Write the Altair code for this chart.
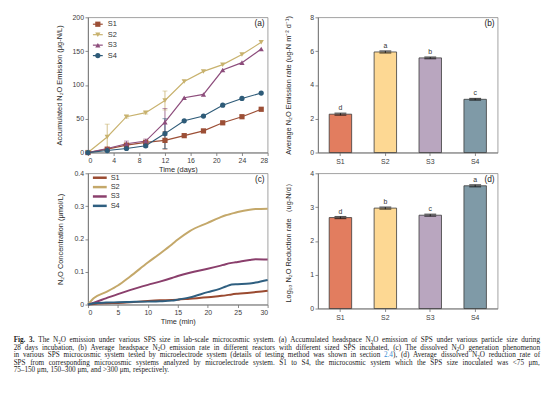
import altair as alt
import pandas as pd

FONT = "Liberation Sans"
SERIF = "Liberation Serif"
series = ["S1", "S2", "S3", "S4"]

# ---------- (a) accumulated headspace N2O emission ----------
days = [0, 3, 6, 9, 12, 15, 18, 21, 24, 27]
acc_S1 = [0, 5, 11, 15, 18, 25, 32, 44, 53, 64]
acc_S2 = [0, 23, 53, 59, 77, 105, 120, 130, 145, 163]
acc_S3 = [0, 6, 13, 17, 45, 81, 86, 122, 133, 153]
acc_S4 = [0, 3, 6, 10, 28, 47, 54, 70, 80, 88]
err_S1 = [0, 1, 2, 2, 13, 1, 1, 1, 1, 1]
err_S2 = [0, 19, 2, 2, 14, 1, 1, 1, 1, 1]
err_S3 = [0, 1, 4, 3, 20, 1, 1, 1, 1, 1]
err_S4 = [0, 1, 1, 2, 22, 1, 1, 1, 1, 1]

# ---------- (b) average headspace emission rate ----------
emis_rate = [2.27, 5.95, 5.60, 3.15]
emis_err = [0.06, 0.06, 0.05, 0.05]
emis_letters = ["d", "a", "b", "c"]

# ---------- (c) dissolved N2O concentration ----------
minutes = [0, 1, 3, 5, 7, 10, 12, 14, 15, 17, 20, 22, 23, 24, 25, 27, 28, 30]
conc_S1 = [0, 0.002, 0.004, 0.005, 0.007, 0.011, 0.013, 0.014, 0.015, 0.018, 0.022, 0.026, 0.028, 0.031, 0.033, 0.036, 0.038, 0.042]
conc_S2 = [0, 0.020, 0.038, 0.058, 0.085, 0.128, 0.155, 0.183, 0.198, 0.224, 0.249, 0.265, 0.272, 0.277, 0.282, 0.289, 0.291, 0.292]
conc_S3 = [0, 0.006, 0.019, 0.032, 0.044, 0.060, 0.070, 0.081, 0.087, 0.097, 0.109, 0.118, 0.123, 0.127, 0.130, 0.136, 0.138, 0.137]
conc_S4 = [0, 0.004, 0.006, 0.007, 0.008, 0.009, 0.010, 0.012, 0.015, 0.022, 0.038, 0.048, 0.055, 0.061, 0.062, 0.064, 0.067, 0.075]

# ---------- (d) dissolved N2O reduction rate ----------
red_rate = [2.69, 2.97, 2.76, 3.63]
red_err = [0.03, 0.03, 0.03, 0.03]
red_letters = ["d", "b", "c", "a"]

# ---------- figure caption (one string per printed line; |...| marks the blue link) ----------
caption_bold = "Fig. 3."
caption_lines = [
    "The N₂O emission under various SPS size in lab-scale microcosmic system. (a) Accumulated headspace N₂O emission of SPS under various particle size during",
    "28 days incubation, (b) Average headspace N₂O emission rate in different reactors with different sized SPS incubated, (c) The dissolved N₂O generation phenomenon",
    "in various SPS microcosmic system tested by microelectrode system (details of testing method was shown in section |2.4|), (d) Average dissolved N₂O reduction rate of",
    "SPS from corresponding microcosmic systems analyzed by microelectrode system. S1 to S4, the microcosmic system which the SPS size inoculated was <75 μm,",
    "75–150 μm, 150–300 μm, and >300 μm, respectively.",
]
caption_justified = [True, True, True, True, False]

colors_a = ["#9c4f36", "#c8b26e", "#8d4d7c", "#2e5b78"]
shapes_a = ["square", "triangle-down", "triangle-up", "circle"]
colors_c = ["#9a4a30", "#c4a86a", "#8a3f6c", "#2f5f80"]
bar_colors = ["#e27d5f", "#fdd893", "#b9a6bf", "#7f9aa7"]
TEXT_COL = "#1a1a1a"
LINK_COL = "#3b8fd4"

W, H1, H2 = 182, 137, 133
one = pd.DataFrame({"k": [0]})


def panel_label(txt, w):
    return alt.Chart(one).mark_text(text=txt, align="right", baseline="middle", font=FONT,
                                    fontSize=8.5, color="#222").encode(
        x=alt.value(w - 3), y=alt.value(6))


# ----- panel a -----
rows = []
for s, vals, errs in zip(series, [acc_S1, acc_S2, acc_S3, acc_S4], [err_S1, err_S2, err_S3, err_S4]):
    for d, v, e in zip(days, vals, errs):
        rows.append(dict(day=d, val=v, lo=v - e, hi=v + e, err=e, s=s))
dfa = pd.DataFrame(rows)

sx_a = alt.Scale(domain=[0, 28], nice=False)
sy_a = alt.Scale(domain=[0, 200], nice=False)
axx_a = alt.Axis(values=list(range(0, 29, 4)), title="Time (days)", titlePadding=2)
axy_a = alt.Axis(values=[0, 50, 100, 150, 200], title="Accumulated N₂O Emission (μg-N/L)", titlePadding=9)
col_a = alt.Color("s:N", scale=alt.Scale(domain=series, range=colors_a), legend=None)
shp_a = alt.Shape("s:N", scale=alt.Scale(domain=series, range=shapes_a), legend=None)

base_a = alt.Chart(dfa)
xa = alt.X("day:Q", scale=sx_a, axis=axx_a)
a_err = base_a.transform_filter("datum.err >= 2").mark_rule(strokeWidth=0.8).encode(
    x=xa, y=alt.Y("lo:Q", scale=sy_a, axis=axy_a), y2="hi:Q", color=col_a)
a_cap_hi = base_a.transform_filter("datum.err >= 2").mark_tick(orient="horizontal", size=5, thickness=0.8).encode(
    x=xa, y=alt.Y("hi:Q", scale=sy_a, axis=axy_a), color=col_a)
a_cap_lo = base_a.transform_filter("datum.err >= 2").mark_tick(orient="horizontal", size=5, thickness=0.8).encode(
    x=xa, y=alt.Y("lo:Q", scale=sy_a, axis=axy_a), color=col_a)
a_line = base_a.mark_line(strokeWidth=1.2).encode(
    x=xa, y=alt.Y("val:Q", scale=sy_a, axis=axy_a), color=col_a)
a_pts = base_a.mark_point(filled=True, size=28, opacity=1).encode(
    x=xa, y=alt.Y("val:Q", scale=sy_a, axis=axy_a), color=col_a, shape=shp_a)

leg_a = pd.DataFrame({"s": series, "ly": [7 + 10.6 * i for i in range(4)]})
la_rule = alt.Chart(leg_a).mark_rule(strokeWidth=1.2).encode(
    x=alt.value(5), x2=alt.value(15), y=alt.Y("ly:Q", scale=None, axis=None), color=col_a)
la_pts = alt.Chart(leg_a).mark_point(filled=True, size=28, opacity=1).encode(
    x=alt.value(10), y=alt.Y("ly:Q", scale=None, axis=None), color=col_a, shape=shp_a)
la_txt = alt.Chart(leg_a).mark_text(align="left", baseline="middle", font=FONT, fontSize=7.5, color="#333").encode(
    x=alt.value(20), y=alt.Y("ly:Q", scale=None, axis=None), text="s:N")

pa = alt.layer(a_err, a_cap_hi, a_cap_lo, a_line, a_pts, la_rule, la_pts, la_txt,
               panel_label("(a)", W)).properties(width=W, height=H1)


# ----- bar panels -----
def bar_panel(vals, errs, letters, ymax, yvals, ytitle, label, h, fieldname):
    df = pd.DataFrame({fieldname: series, "v": vals, "e": errs, "lab": letters})
    df["hi"] = df["v"] + df["e"]
    df["lo"] = df["v"] - df["e"]
    sx = alt.Scale(domain=series, paddingInner=0.5, paddingOuter=0.25)
    sy = alt.Scale(domain=[0, ymax], nice=False)
    x = alt.X(f"{fieldname}:N", scale=sx, axis=alt.Axis(title=None, labelAngle=0, labelPadding=2))
    axy = alt.Axis(values=yvals, title=ytitle, titlePadding=17, format="~g")
    base = alt.Chart(df)
    bars = base.mark_bar(stroke="#3a3a3a", strokeWidth=0.8).encode(
        x=x, y=alt.Y("v:Q", scale=sy, axis=axy),
        fill=alt.Fill(f"{fieldname}:N", scale=alt.Scale(domain=series, range=bar_colors), legend=None))
    rule = base.mark_rule(color="#111", strokeWidth=0.8).encode(
        x=x, y=alt.Y("lo:Q", scale=sy, axis=axy), y2="hi:Q")
    cap = base.mark_tick(color="#111", size=12, thickness=1.2).encode(
        x=x, y=alt.Y("hi:Q", scale=sy, axis=axy))
    cap2 = base.mark_tick(color="#111", size=12, thickness=1.2).encode(
        x=x, y=alt.Y("lo:Q", scale=sy, axis=axy))
    txt = base.mark_text(baseline="bottom", dy=-2, font=FONT, fontSize=7, color="#333").encode(
        x=x, y=alt.Y("hi:Q", scale=sy, axis=axy), text="lab:N")
    return alt.layer(bars, rule, cap, cap2, txt, panel_label(label, W)).properties(width=W, height=h)


pb = bar_panel(emis_rate, emis_err, emis_letters, 8, [0, 2, 4, 6, 8],
               "Average N₂O Emission rate (ug-N m⁻² d⁻¹)", "(b)", H1, "sb")
pdd = bar_panel(red_rate, red_err, red_letters, 4, [0, 1, 2, 3, 4],
                "Log₁₀ N₂O Reduction rate （ug-N/d）", "(d)", H1, "sd")

# ----- panel c -----
rows = []
for s, vals in zip(series, [conc_S1, conc_S2, conc_S3, conc_S4]):
    for t, v in zip(minutes, vals):
        rows.append(dict(t=t, c=v, sc=s))
dfc = pd.DataFrame(rows)
col_c = alt.Color("sc:N", scale=alt.Scale(domain=series, range=colors_c), legend=None)
c_line = alt.Chart(dfc).mark_line(strokeWidth=2, interpolate="monotone").encode(
    x=alt.X("t:Q", scale=alt.Scale(domain=[0, 30], nice=False),
            axis=alt.Axis(values=[0, 5, 10, 15, 20, 25, 30], title="Time (min)", titlePadding=2)),
    y=alt.Y("c:Q", scale=alt.Scale(domain=[0, 0.4], nice=False),
            axis=alt.Axis(values=[0, 0.1, 0.2, 0.3, 0.4], format="~g",
                          title="N₂O Concentration (μmol/L)", titlePadding=10)),
    color=col_c)
leg_c = pd.DataFrame({"sc": series, "ly": [4.5 + 9.5 * i for i in range(4)]})
lc_rule = alt.Chart(leg_c).mark_rule(strokeWidth=2.5).encode(
    x=alt.value(5), x2=alt.value(19), y=alt.Y("ly:Q", scale=None, axis=None), color=col_c)
lc_txt = alt.Chart(leg_c).mark_text(align="left", baseline="middle", font=FONT, fontSize=7.5, color="#333").encode(
    x=alt.value(23), y=alt.Y("ly:Q", scale=None, axis=None), text="sc:N")

# ----- caption layout: justified word placement using Times-compatible metrics -----
TIMES = {" ": 250, "(": 333, ")": 333, ",": 250, "-": 333, ".": 250, "<": 564, ">": 564, "–": 500,
         "μ": 576}
for ch in "0123456789":
    TIMES[ch] = 500
TIMES.update(dict(zip("ABCDEFGHIJKLMNOPQRSTUVWXYZ",
                      [722, 667, 667, 722, 611, 556, 722, 722, 333, 389, 722, 611, 889, 722, 722, 556, 722,
                       667, 556, 611, 722, 722, 944, 722, 722, 611])))
TIMES.update(dict(zip("abcdefghijklmnopqrstuvwxyz",
                      [444, 500, 444, 500, 444, 333, 500, 500, 278, 278, 500, 278, 778, 500, 500, 500, 500,
                       333, 389, 278, 500, 500, 722, 500, 500, 444])))
CFS = 7.3
SUB = 0.7
CAP_L, CAP_R = -75.3, 458.0
CAP_Y0, CAP_DY = 169.0, 7.6


def split_segments(word):
    """Split a word into (text, style) pieces: style is 'n' normal, 'l' link, 's' subscript."""
    segs, cur, style, link = [], "", "n", False
    for ch in word:
        if ch == "|":
            if cur:
                segs.append((cur, style))
            cur = ""
            link = not link
            style = "l" if link else "n"
        elif ch == "₂":
            if cur:
                segs.append((cur, style))
            segs.append(("2", "s"))
            cur = ""
        else:
            cur += ch
    if cur:
        segs.append((cur, style))
    return segs


def seg_width(txt, style, bold=False):
    w = sum(TIMES.get(ch, 500) for ch in txt) / 1000.0 * CFS
    if style == "s":
        w *= SUB
    return w * (1.04 if bold else 1.0)


cap_rows = []
for li, (line, just) in enumerate(zip(caption_lines, caption_justified)):
    words = [(w, True) for w in caption_bold.split()] if li == 0 else []
    words += [(w, False) for w in line.split()]
    wsegs = [split_segments(w) for w, _ in words]
    widths = [sum(seg_width(t, st, b) for t, st in sg) for sg, (_, b) in zip(wsegs, words)]
    if just:
        gap = (CAP_R - CAP_L - sum(widths)) / (len(words) - 1)
    else:
        gap = TIMES[" "] / 1000.0 * CFS
    x = CAP_L
    yy = CAP_Y0 + CAP_DY * li
    for sg, (w, b), wd in zip(wsegs, words, widths):
        sx = x
        for t, st in sg:
            cap_rows.append(dict(txt=t, px=sx, py=yy + (1.6 if st == "s" else 0.0),
                                 col=LINK_COL if st == "l" else TEXT_COL, bold=b, sub=(st == "s")))
            sx += seg_width(t, st, b)
        x += wd + gap
cap_df = pd.DataFrame(cap_rows)


def cap_layer(df, size, weight):
    return alt.Chart(df).mark_text(align="left", baseline="middle", font=SERIF, fontSize=size,
                                   fontWeight=weight).encode(
        x=alt.X("px:Q", scale=None, axis=None), y=alt.Y("py:Q", scale=None, axis=None),
        text="txt:N", color=alt.Color("col:N", scale=None))


cap_normal = cap_layer(cap_df[(~cap_df["bold"]) & (~cap_df["sub"])], CFS, "normal")
cap_sub = cap_layer(cap_df[cap_df["sub"]], CFS * SUB, "normal")
cap_bold = cap_layer(cap_df[cap_df["bold"]], CFS, "bold")

pc = alt.layer(c_line, lc_rule, lc_txt, panel_label("(c)", W), cap_normal, cap_sub, cap_bold).properties(
    width=W, height=H2)

chart = alt.concat(pa, pb, pc, pdd, columns=2, spacing={"row": 21, "column": 51}, bounds="flush").resolve_scale(
    color="independent", fill="independent", shape="independent"
).properties(
    padding={"left": 5, "top": 2, "right": 5, "bottom": 5}, background="white"
).configure_view(
    stroke="#8a8a8a", strokeWidth=0.8
).configure_axis(
    domainColor="#6e6e6e", tickColor="#6e6e6e", labelColor="#3c3c3c", titleColor="#2a2a2a",
    labelFont=FONT, titleFont=FONT, labelFontSize=7, titleFontSize=7.5, titleFontWeight="normal",
    tickSize=3, labelPadding=1.5, grid=False, domainWidth=0.8, tickWidth=0.8
)

chart.save("out.html", embed_options={"renderer": "svg", "actions": False})
